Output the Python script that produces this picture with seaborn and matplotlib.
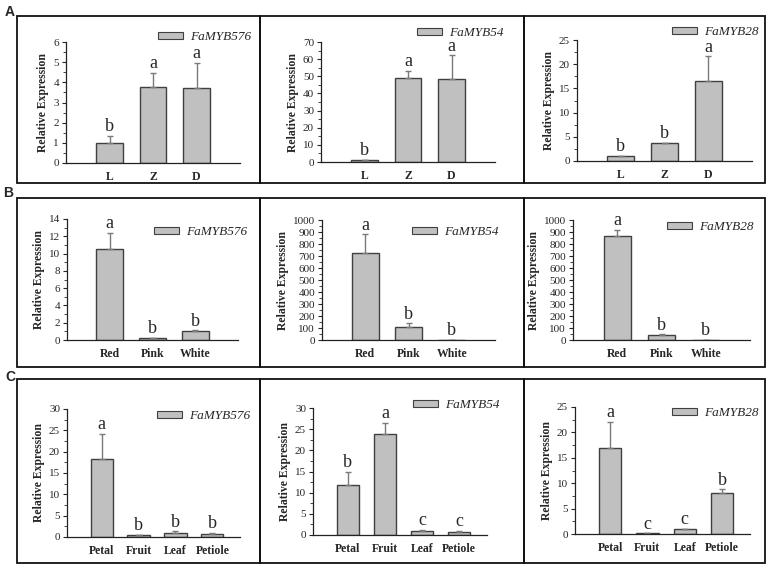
import matplotlib
matplotlib.use("Agg")
import matplotlib.pyplot as plt
import seaborn as sns
from matplotlib.patches import Patch, Rectangle
from matplotlib.ticker import AutoMinorLocator, MultipleLocator

# data
stages = ["L", "Z", "D"]
colors = ["Red", "Pink", "White"]
tissues = ["Petal", "Fruit", "Leaf", "Petiole"]

a_576 = [1.0, 3.75, 3.72]
a_576_err = [0.33, 0.73, 1.23]
a_54 = [1.0, 49.2, 48.5]
a_54_err = [0.3, 3.8, 13.8]
a_28 = [1.0, 3.7, 16.6]
a_28_err = [0.1, 0.1, 5.0]

b_576 = [10.5, 0.2, 1.0]
b_576_err = [1.9, 0.08, 0.1]
b_54 = [725, 105, 1.0]
b_54_err = [155, 35, 2]
b_28 = [865, 40, 1.0]
b_28_err = [55, 8, 2]

c_576 = [18.2, 0.4, 1.0, 0.8]
c_576_err = [5.9, 0.05, 0.3, 0.15]
c_54 = [11.8, 23.8, 1.0, 0.8]
c_54_err = [3.2, 2.7, 0.2, 0.1]
c_28 = [17.0, 0.1, 1.0, 8.0]
c_28_err = [5.1, 0.03, 0.05, 0.8]

letters_a = [["b", "a", "a"], ["b", "a", "a"], ["b", "b", "a"]]
letters_b = [["a", "b", "b"], ["a", "b", "b"], ["a", "b", "b"]]
letters_c = [["a", "b", "b", "b"], ["b", "a", "c", "c"], ["a", "c", "c", "b"]]
genes = ["FaMYB576", "FaMYB54", "FaMYB28"]

W, H = 767, 566
fig = plt.figure(figsize=(W / 100, H / 100), dpi=100)
sns.set_style("white")
plt.rcParams["font.family"] = ["Liberation Serif", "DejaVu Serif"]


def px(x, y):
    return x / W, 1 - y / H


# panels: (axes left, right, bottom, top px), ylim max, tick step, legend pos px
panels = [
    (stages, a_576, a_576_err, letters_a[0], genes[0], (66, 240, 163, 42), 6, 1, (158, 37)),
    (stages, a_54, a_54_err, letters_a[1], genes[1], (321, 495, 162, 42), 70, 10, (417, 33)),
    (stages, a_28, a_28_err, letters_a[2], genes[2], (577, 752, 161, 40), 25, 5, (672, 32)),
    (colors, b_576, b_576_err, letters_b[0], genes[0], (67, 238, 340, 219), 14, 2, (154, 232)),
    (colors, b_54, b_54_err, letters_b[1], genes[1], (322, 495, 340, 220), 1000, 100, (412, 232)),
    (colors, b_28, b_28_err, letters_b[2], genes[2], (573, 750, 340, 220), 1000, 100, (667, 227)),
    (tissues, c_576, c_576_err, letters_c[0], genes[0], (67, 240, 537, 409), 30, 5, (157, 416)),
    (tissues, c_54, c_54_err, letters_c[1], genes[1], (313, 487, 535, 408), 30, 5, (413, 405)),
    (tissues, c_28, c_28_err, letters_c[2], genes[2], (575, 750, 534, 407), 25, 5, (672, 413)),
]

for cats, vals, errs, lets, gene, (l, r, b, t), ymax, step, (lx, ly) in panels:
    x0, y0 = px(l, b)
    x1, y1 = px(r, t)
    ax = fig.add_axes([x0, y0, x1 - x0, y1 - y0])
    sns.barplot(x=cats, y=vals, ax=ax, color="#c0c0c0", edgecolor="#404040",
                linewidth=1, saturation=1, width=0.62 if len(cats) == 3 else 0.6)
    pos = list(range(len(cats)))
    ax.errorbar(pos, vals, yerr=[[0] * len(vals), errs], fmt="none",
                ecolor="#7a7a7a", elinewidth=1, capsize=2.5, capthick=1)
    for i, (v, e, s) in enumerate(zip(vals, errs, lets)):
        ax.annotate(s, (i, v + e), xytext=(0, 0.5), textcoords="offset points",
                    ha="center", va="bottom", fontsize=13)
    if len(cats) == 3:
        ax.set_xlim(-1, 3)
    else:
        ax.set_xlim(-0.94, 3.75)
    ax.set_ylim(0, ymax)
    ax.yaxis.set_major_locator(MultipleLocator(step))
    ax.yaxis.set_minor_locator(AutoMinorLocator(2))
    ax.tick_params(axis="y", which="major", direction="out", length=3, width=0.8,
                   labelsize=8, pad=2, left=True)
    ax.tick_params(axis="y", which="minor", direction="out", length=2, width=0.6, left=True)
    ax.tick_params(axis="x", length=0, labelsize=8.5, pad=6)
    for lab in ax.get_xticklabels():
        lab.set_fontweight("bold")
    ax.set_ylabel("Relative Expression", fontsize=8.5, fontweight="bold", labelpad=3)
    ax.set_xlabel("")
    sns.despine(ax=ax)
    for sp in ["left", "bottom"]:
        ax.spines[sp].set_linewidth(0.9)
        ax.spines[sp].set_color("#222222")
    ax.patch.set_alpha(0)
    handle = Patch(facecolor="#c0c0c0", edgecolor="#404040", linewidth=0.8)
    ax.legend([handle], [gene], loc="center left", bbox_to_anchor=px(lx, ly),
              bbox_transform=fig.transFigure, frameon=False, borderpad=0,
              borderaxespad=0, handlelength=1.9, handleheight=0.4,
              handletextpad=0.5, prop={"style": "italic", "size": 9.5})

# panel boxes
rows = [(16, 183), (198, 367), (379, 563)]
cols = [17, 260, 524, 765]
for top, bot in rows:
    for i in range(3):
        xa, yb = px(cols[i], bot)
        xb, yt = px(cols[i + 1], top)
        fig.add_artist(Rectangle((xa, yb), xb - xa, yt - yb, transform=fig.transFigure,
                                 fill=False, edgecolor="#111111", linewidth=1.3))

for lab, (x, y) in zip(["A", "B", "C"], [(10, 12), (8, 193), (10, 377)]):
    fx, fy = px(x, y)
    fig.text(fx, fy, lab, ha="center", va="center", fontsize=10, fontweight="bold",
             family=["Liberation Sans", "DejaVu Sans"])

fig.savefig("out.png", dpi=100)
